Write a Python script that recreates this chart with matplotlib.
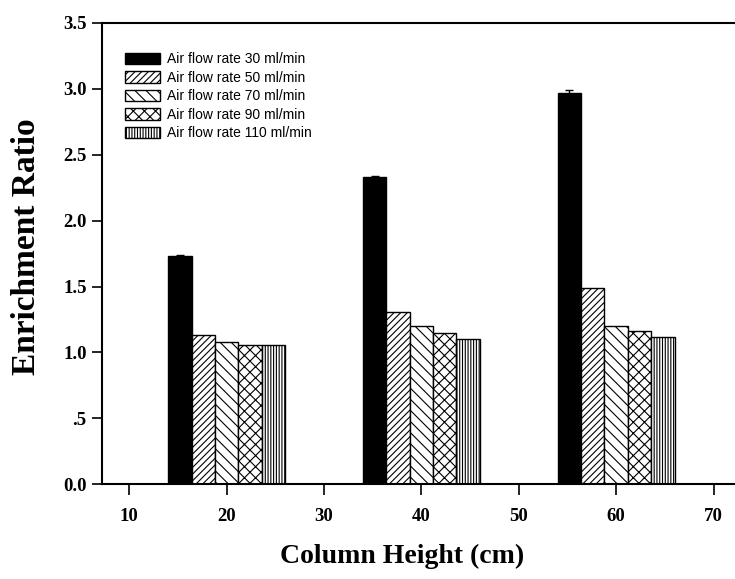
import numpy as np
import matplotlib
matplotlib.use("Agg")
import matplotlib.pyplot as plt

# data
heights = [20, 40, 60]
labels = [
    "Air flow rate 30 ml/min",
    "Air flow rate 50 ml/min",
    "Air flow rate 70 ml/min",
    "Air flow rate 90 ml/min",
    "Air flow rate 110 ml/min",
]
flow30 = [1.73, 2.33, 2.97]
flow50 = [1.13, 1.31, 1.49]
flow70 = [1.08, 1.20, 1.20]
flow90 = [1.06, 1.15, 1.16]
flow110 = [1.06, 1.10, 1.12]
err30 = [0.01, 0.01, 0.02]

series = [flow30, flow50, flow70, flow90, flow110]
hatches = [None, "/////", "\\\\\\", "xxx", "||||||"]
faces = ["black", "white", "white", "white", "white"]

plt.rcParams["hatch.linewidth"] = 0.8

fig = plt.figure(figsize=(7.35, 5.79), dpi=100)
ax = fig.add_axes([0.1388, 0.1636, 0.885, 0.797])

width = 2.4
x = np.array(heights, dtype=float)
for i, vals in enumerate(series):
    ax.bar(
        x + (i - 2) * width,
        vals,
        width=width,
        color=faces[i],
        edgecolor="black",
        hatch=hatches[i],
        linewidth=1.0,
        label=labels[i],
        yerr=err30 if i == 0 else None,
        capsize=3,
        error_kw=dict(elinewidth=1, capthick=1, ecolor="black"),
    )

ax.set_xlim(7.2, 74)
ax.set_ylim(0, 3.5)
ax.set_xticks([10, 20, 30, 40, 50, 60, 70])
ax.set_yticks([0, 0.5, 1.0, 1.5, 2.0, 2.5, 3.0, 3.5])
ax.set_yticklabels(["0.0", ".5", "1.0", "1.5", "2.0", "2.5", "3.0", "3.5"])

for t in ax.get_xticklabels() + ax.get_yticklabels():
    t.set_fontfamily("Liberation Serif")
    t.set_fontweight("bold")
    t.set_fontsize(13.5)

ax.tick_params(axis="x", direction="out", length=8, width=1.2, pad=9)
ax.tick_params(axis="y", direction="out", length=7, width=1.2, pad=4)
for s in ax.spines.values():
    s.set_linewidth(1.5)

ax.set_xlabel("Column Height (cm)", family="Liberation Serif", weight="bold",
              fontsize=20)
ax.set_ylabel("Enrichment Ratio", family="Liberation Serif", weight="bold",
              fontsize=24)
ax.xaxis.set_label_coords(0.461, -0.13)
ax.yaxis.set_label_coords(-0.093, 0.514)

ax.legend(
    loc="upper left",
    bbox_to_anchor=(0.018, 0.96),
    frameon=False,
    prop={"family": "Liberation Sans", "size": 10},
    handlelength=2.5,
    handleheight=0.9,
    labelspacing=0.32,
    handletextpad=0.55,
    borderpad=0.3,
)

fig.savefig("out.png", dpi=100)
